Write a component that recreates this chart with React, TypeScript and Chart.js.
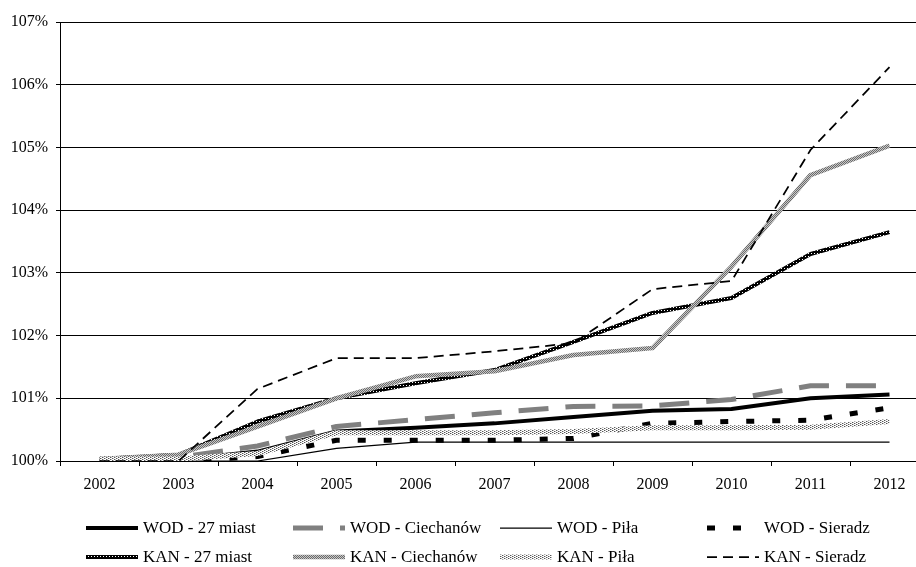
import React, { useEffect, useRef } from 'react';
import { Chart, registerables } from 'chart.js';

Chart.register(...registerables);

const FONT = "'Liberation Serif', 'Times New Roman', serif";

const years = ['2002', '2003', '2004', '2005', '2006', '2007', '2008', '2009', '2010', '2011', '2012'];

const seriesLabels = [
  'WOD - 27 miast',
  'WOD - Ciechanów',
  'WOD - Piła',
  'WOD - Sieradz',
  'KAN - 27 miast',
  'KAN - Ciechanów',
  'KAN - Piła',
  'KAN - Sieradz',
];

const wod27 = [100.0, 100.02, 100.15, 100.47, 100.53, 100.6, 100.7, 100.8, 100.83, 101.0, 101.06];
const wodCiechanow = [100.0, 100.06, 100.24, 100.55, 100.66, 100.77, 100.87, 100.88, 100.98, 101.2, 101.2];
const wodPila = [100.0, 100.0, 100.0, 100.2, 100.3, 100.3, 100.3, 100.3, 100.3, 100.3, 100.3];
const wodSieradz = [100.0, 100.0, 100.07, 100.33, 100.33, 100.33, 100.36, 100.6, 100.63, 100.65, 100.85];
const kan27 = [100.03, 100.1, 100.63, 101.0, 101.24, 101.45, 101.9, 102.36, 102.6, 103.3, 103.65];
const kanCiechanow = [100.03, 100.1, 100.55, 101.0, 101.35, 101.43, 101.69, 101.8, 103.1, 104.56, 105.03];
const kanPila = [100.03, 100.03, 100.12, 100.45, 100.45, 100.45, 100.47, 100.53, 100.53, 100.54, 100.63];
const kanSieradz = [100.0, 100.0, 101.15, 101.64, 101.64, 101.75, 101.88, 102.74, 102.87, 104.96, 106.28];

const yMin = 100;
const yMax = 107;
const yStep = 1;

function makePattern(w: number, h: number, bg: string, dots: [number, number, string][]) {
  const c = document.createElement('canvas');
  c.width = w;
  c.height = h;
  const g = c.getContext('2d')!;
  g.fillStyle = bg;
  g.fillRect(0, 0, w, h);
  for (const [x, y, col] of dots) {
    g.fillStyle = col;
    g.fillRect(x, y, 1, 1);
  }
  return g.createPattern(c, 'repeat')!;
}

const legendPlugin = {
  id: 'customLegend',
  afterDraw(chart: any) {
    const ctx = chart.ctx as CanvasRenderingContext2D;
    const cols = [86, 293, 500, 707];
    const rows = [528, 557];
    chart.data.datasets.forEach((ds: any, i: number) => {
      const x = cols[i % 4];
      const y = rows[Math.floor(i / 4)];
      ctx.save();
      ctx.strokeStyle = ds.borderColor;
      ctx.lineWidth = ds.borderWidth;
      ctx.setLineDash(ds.borderDash || []);
      ctx.lineCap = 'butt';
      ctx.beginPath();
      ctx.moveTo(x, y);
      ctx.lineTo(x + 52, y);
      ctx.stroke();
      ctx.setLineDash([]);
      ctx.fillStyle = '#000';
      ctx.font = `normal 17px ${FONT}`;
      ctx.textBaseline = 'middle';
      ctx.textAlign = 'left';
      ctx.fillText(ds.label, x + 57, y + 1);
      ctx.restore();
    });
  },
};

export default function App() {
  const ref = useRef<HTMLCanvasElement | null>(null);

  useEffect(() => {
    const canvas = ref.current!;
    const patKan27 = makePattern(3, 3, '#000000', [[1, 1, '#ffffff']]);
    const patKanCiech = makePattern(2, 2, '#6a6a6a', [[1, 0, '#c8c8c8'], [0, 1, '#c8c8c8']]);
    const patKanPila = makePattern(4, 2, '#ffffff', [[0, 0, '#555555'], [2, 1, '#555555'], [1, 0, '#bbbbbb'], [3, 1, '#bbbbbb']]);

    const values = [wod27, wodCiechanow, wodPila, wodSieradz, kan27, kanCiechanow, kanPila, kanSieradz];
    const styles = [
      { borderColor: '#000000', borderWidth: 4, borderDash: [] as number[] },
      { borderColor: '#808080', borderWidth: 5, borderDash: [30, 17] },
      { borderColor: '#000000', borderWidth: 1.25, borderDash: [] as number[] },
      { borderColor: '#000000', borderWidth: 5, borderDash: [8, 18] },
      { borderColor: patKan27, borderWidth: 4, borderDash: [] as number[] },
      { borderColor: patKanCiech, borderWidth: 4.5, borderDash: [] as number[] },
      { borderColor: patKanPila, borderWidth: 5, borderDash: [] as number[] },
      { borderColor: '#000000', borderWidth: 1.75, borderDash: [10, 6] },
    ];

    const datasets = values.map((data, i) => ({
      label: seriesLabels[i],
      data,
      ...styles[i],
      backgroundColor: 'transparent',
      fill: false,
      pointRadius: 0,
      pointHoverRadius: 0,
      tension: 0,
      borderCapStyle: 'butt' as const,
      borderJoinStyle: 'round' as const,
      order: values.length - i,
    }));

    const chart = new Chart(canvas, {
      type: 'line',
      data: { labels: years, datasets: datasets as any },
      plugins: [legendPlugin],
      options: {
        animation: false,
        responsive: false,
        events: [],
        layout: { padding: { left: 0, top: 22, right: 11, bottom: 66 } },
        plugins: {
          legend: { display: false },
          tooltip: { enabled: false },
          title: { display: false },
        },
        scales: {
          x: {
            type: 'category',
            offset: true,
            grid: {
              display: true,
              drawOnChartArea: false,
              drawTicks: true,
              tickLength: 5,
              color: '#000',
              offset: true,
            },
            border: { display: true, color: '#000', width: 1 },
            ticks: {
              color: '#000',
              font: { family: FONT, size: 16 },
              padding: 9,
              maxRotation: 0,
              autoSkip: false,
            },
            afterFit: (s: any) => {
              s.height = 40;
            },
          },
          y: {
            min: yMin,
            max: yMax,
            grid: { color: '#000', lineWidth: 1, tickLength: 4, drawTicks: true },
            border: { display: true, color: '#000', width: 1 },
            ticks: {
              stepSize: yStep,
              color: '#000',
              font: { family: FONT, size: 16 },
              padding: 8,
              callback: (v: any) => `${v}%`,
            },
            afterFit: (s: any) => {
              s.width = 60;
            },
          },
        },
      },
    });
    return () => chart.destroy();
  }, []);

  return (
    <div
      style={{
        position: 'fixed',
        left: 0,
        top: 0,
        width: 916,
        height: 567,
        overflow: 'hidden',
        background: '#fff',
      }}
    >
      <canvas ref={ref} width={940} height={567} style={{ display: 'block', width: 940, height: 567 }} />
    </div>
  );
}
